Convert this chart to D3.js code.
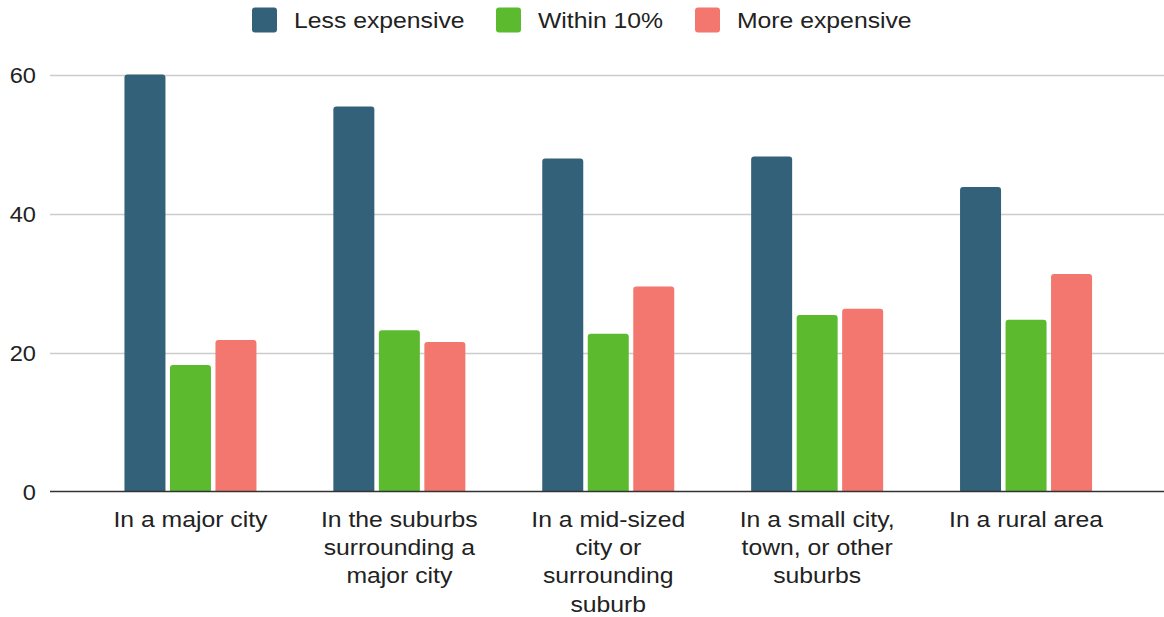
<!DOCTYPE html>
<html><head><meta charset="utf-8">
<script src="https://cdn.jsdelivr.net/npm/d3@7"></script>
<style>body{margin:0;background:#fff;} svg{display:block;font-family:"Liberation Sans",Arial,sans-serif;}</style>
</head><body>
<svg id="c" width="1164" height="617"></svg>
<script>
const categories = [
  ["In a major city"],
  ["In the suburbs","surrounding a","major city"],
  ["In a mid-sized","city or","surrounding","suburb"],
  ["In a small city,","town, or other","suburbs"],
  ["In a rural area"]
];
const seriesNames = ["Less expensive","Within 10%","More expensive"];
const lessExpensive = [60.0, 55.4, 47.9, 48.2, 43.8];
const within10 = [18.2, 23.2, 22.7, 25.4, 24.7];
const moreExpensive = [21.8, 21.5, 29.5, 26.3, 31.3];
const yTicks = [0, 20, 40, 60];
const colors = ["#336179", "#5cba2f", "#f3776e"];

const svg = d3.select("#c");
const series = [lessExpensive, within10, moreExpensive];
const catKeys = categories.map((c,i)=>i);
const FS = 22.5, SX = 1.1;

const x0 = d3.scaleBand().domain(catKeys).range([86, 1130.5]).paddingInner(0).paddingOuter(0);
const y = d3.scaleLinear().domain([0, 60]).range([491.5, 74.5]);
const barW = 41, gap = 4.5;
const x1 = d3.scaleBand().domain([0,1,2]).range([-(barW*3+gap*2)/2, (barW*3+gap*2)/2]).paddingInner(gap/(barW+gap)).paddingOuter(0);

// gridlines
svg.append("g").selectAll("line").data(yTicks.filter(t=>t>0)).join("line")
  .attr("x1", 50).attr("x2", 1164)
  .attr("y1", d=>Math.round(y(d))+0.5).attr("y2", d=>Math.round(y(d))+0.5)
  .attr("stroke", "#cccccc").attr("stroke-width", 1.5);

// y tick labels
svg.append("g").selectAll("text").data(yTicks).join("text")
  .attr("transform", d=>`translate(36,${y(d)+8.5}) scale(1.05,1)`)
  .attr("text-anchor","end").attr("font-size", FS).attr("fill","#222")
  .text(d=>d);

// bars with rounded top corners
function topRounded(x, yTop, w, h, r){
  r = Math.min(r, h);
  return `M${x},${yTop+h}V${yTop+r}Q${x},${yTop} ${x+r},${yTop}H${x+w-r}Q${x+w},${yTop} ${x+w},${yTop+r}V${yTop+h}Z`;
}
const g = svg.append("g");
series.forEach((vals, si)=>{
  g.selectAll(null).data(vals).join("path")
    .attr("fill", colors[si])
    .attr("d", (v,i)=>{
      const cx = x0(i) + x0.bandwidth()/2;
      const xl = cx + x1(si);
      return topRounded(xl, y(v), x1.bandwidth(), y(0)-y(v), 3);
    });
});

// x axis line
svg.append("line").attr("x1",50).attr("x2",1164).attr("y1",491.5).attr("y2",491.5)
  .attr("stroke","#333").attr("stroke-width",1.5);

// category labels
const lab = svg.append("g").selectAll("text").data(categories).join("text")
  .attr("text-anchor","middle").attr("font-size",FS).attr("fill","#222")
  .attr("transform",(d,i)=>`translate(${x0(i)+x0.bandwidth()/2},526.5) scale(${SX},1)`);
lab.selectAll("tspan").data(d=>d).join("tspan")
  .attr("x",0).attr("y",(d,i)=>i*28.5).text(d=>d);

// legend
const legendX = [252, 496, 695];
const leg = svg.append("g").selectAll("g").data(seriesNames).join("g")
  .attr("transform",(d,i)=>`translate(${legendX[i]},7.5)`);
leg.append("rect").attr("width",25).attr("height",25).attr("rx",3).attr("fill",(d,i)=>colors[i]);
leg.append("text").attr("transform",`translate(42,20.5) scale(${SX},1)`).attr("font-size",FS).attr("fill","#222").text(d=>d);
</script>
</body></html>
